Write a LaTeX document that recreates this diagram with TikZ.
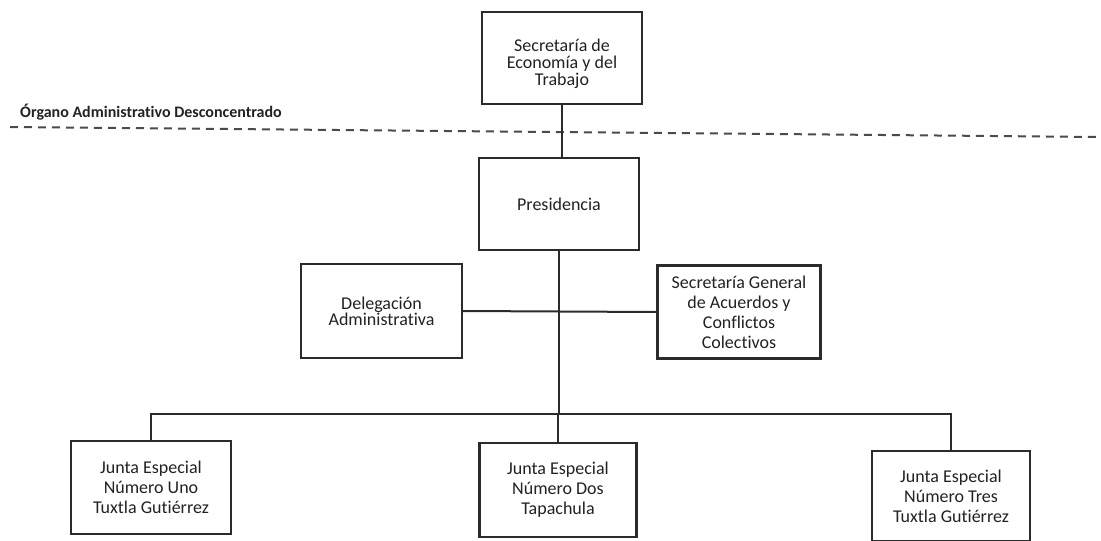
\documentclass[tikz,border=0pt]{standalone}
\usepackage{fontspec}
\setmainfont{Carlito}[Ligatures=NoCommon]
\definecolor{ink}{HTML}{2B2B2B}
\definecolor{txt}{HTML}{222222}
\begin{document}
\begin{tikzpicture}[x=1pt,y=-1pt,
  box/.style={draw=ink,line width=2.2pt,fill=white,minimum width=160pt,minimum height=92pt,
    align=center,inner sep=2pt,text=txt,font=\fontsize{18}{20}\selectfont},
  conn/.style={draw=ink,line width=2pt},
  sep/.style={draw=ink!85,line width=2pt,dash pattern=on 8pt off 6pt}]
\useasboundingbox (0,0) rectangle (1101,541);
\fill[white] (0,0) rectangle (1101,541);
% boxes
\node[box,font=\fontsize{18}{17}\selectfont] (top) at (562,58) {\rule{0pt}{24pt}Secretaría de\\Economía y del\\Trabajo};
\node[box] (pres) at (559,204) {Presidencia};
\node[box,minimum width=161pt,minimum height=94pt,font=\fontsize{18}{16}\selectfont] (del) at (381.5,311) {Delegación\\Administrativa};
\node[box,minimum width=163pt,minimum height=93pt] (sg) at (739,312) {Secretaría General\\de Acuerdos y\\Conflictos\\Colectivos};
\node[box,minimum height=93pt] (j1) at (151,487.5) {Junta Especial\\Número Uno\\Tuxtla Gutiérrez};
\node[box,minimum width=157pt,minimum height=94pt] (j2) at (558,490) {Junta Especial\\Número Dos\\Tapachula};
\node[box,minimum width=158pt,minimum height=90pt] (j3) at (951,496) {Junta Especial\\Número Tres\\Tuxtla Gutiérrez};
% separator
\coordinate (sl) at (10,127);
\coordinate (sr) at (1101,137);
\draw[sep] (sl) -- (sr);
\node[anchor=base west,inner sep=0pt,text=txt,font=\fontsize{16}{16}\selectfont\bfseries] (lab) at (20,117) {Órgano Administrativo Desconcentrado};
% connectors
\coordinate (bus) at (559,414);
\draw[conn] (top.south) -- (top.south |- pres.north);
\draw[conn] (pres.south) -- (pres.south |- bus);
\draw[conn] (del.east) -- (sg.west);
\draw[conn] (j1.north) |- (bus) -| (j3.north);
\draw[conn] (j2.north) -- (j2.north |- bus);
\end{tikzpicture}
\end{document}
